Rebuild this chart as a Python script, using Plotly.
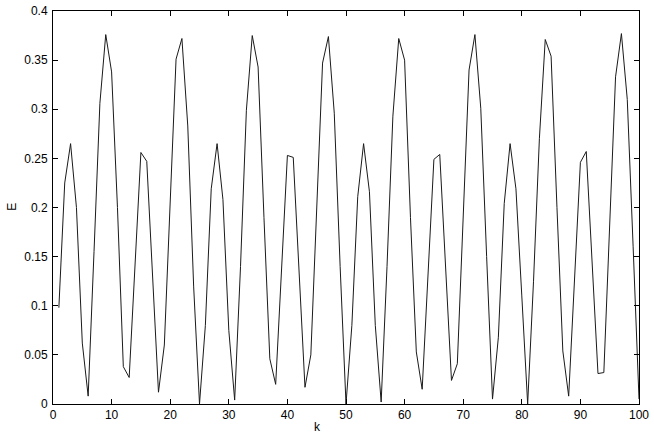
import plotly.graph_objects as go

k = list(range(1, 101))
E = [
    0.098, 0.225, 0.265, 0.200, 0.062, 0.008, 0.155, 0.306, 0.376, 0.338,
    0.200, 0.038, 0.027, 0.145, 0.256, 0.247, 0.130, 0.012, 0.060, 0.210,
    0.351, 0.372, 0.283, 0.120, 0.000, 0.080, 0.219, 0.265, 0.208, 0.075,
    0.004, 0.140, 0.299, 0.375, 0.343, 0.190, 0.046, 0.020, 0.140, 0.253,
    0.251, 0.140, 0.017, 0.050, 0.200, 0.347, 0.374, 0.296, 0.140, 0.000,
    0.080, 0.211, 0.265, 0.216, 0.080, 0.002, 0.140, 0.293, 0.372, 0.350,
    0.190, 0.053, 0.015, 0.130, 0.249, 0.254, 0.140, 0.024, 0.041, 0.190,
    0.340, 0.376, 0.301, 0.150, 0.005, 0.068, 0.204, 0.265, 0.219, 0.110,
    0.000, 0.125, 0.270, 0.371, 0.354, 0.200, 0.054, 0.008, 0.130, 0.246,
    0.257, 0.140, 0.031, 0.032, 0.180, 0.333, 0.377, 0.310, 0.160, 0.005,
]
x_ticks = [0, 10, 20, 30, 40, 50, 60, 70, 80, 90, 100]
y_ticks = [0, 0.05, 0.1, 0.15, 0.2, 0.25, 0.3, 0.35, 0.4]
y_tick_labels = ["0", "0.05", "0.1", "0.15", "0.2", "0.25", "0.3", "0.35", "0.4"]

FONT = "Liberation Sans, Arial, sans-serif"

fig = go.Figure()
fig.add_trace(go.Scatter(x=k, y=E, mode="lines",
                         line=dict(color="#1a1a1a", width=1), showlegend=False))

axis_common = dict(showline=True, linecolor="black", linewidth=1, mirror="ticks",
                   ticks="inside", ticklen=5, tickcolor="black", tickwidth=1,
                   showgrid=False, zeroline=False, automargin=False,
                   ticklabeloverflow="allow",
                   tickfont=dict(family=FONT, size=12, color="black"))

fig.update_xaxes(range=[0, 100], tickvals=x_ticks, ticklabelstandoff=0, **axis_common)
fig.update_yaxes(range=[0, 0.4], tickvals=y_ticks, ticktext=y_tick_labels,
                 ticklabelstandoff=2, **axis_common)

fig.add_annotation(text="k", xref="paper", yref="paper", x=0.451, y=0, yshift=-23,
                   showarrow=False, xanchor="center", yanchor="middle",
                   font=dict(family=FONT, size=12, color="black"))
fig.add_annotation(text="E", xref="paper", yref="paper", x=0, xshift=-41, y=0.502,
                   showarrow=False, xanchor="center", yanchor="middle", textangle=-90,
                   font=dict(family=FONT, size=12, color="black"))

fig.update_layout(width=654, height=436, margin=dict(l=53, r=15, t=11, b=32),
                  plot_bgcolor="white", paper_bgcolor="white")

fig.write_html("out.html", config={"displayModeBar": False},
               post_script="document.body.style.margin='0';")
